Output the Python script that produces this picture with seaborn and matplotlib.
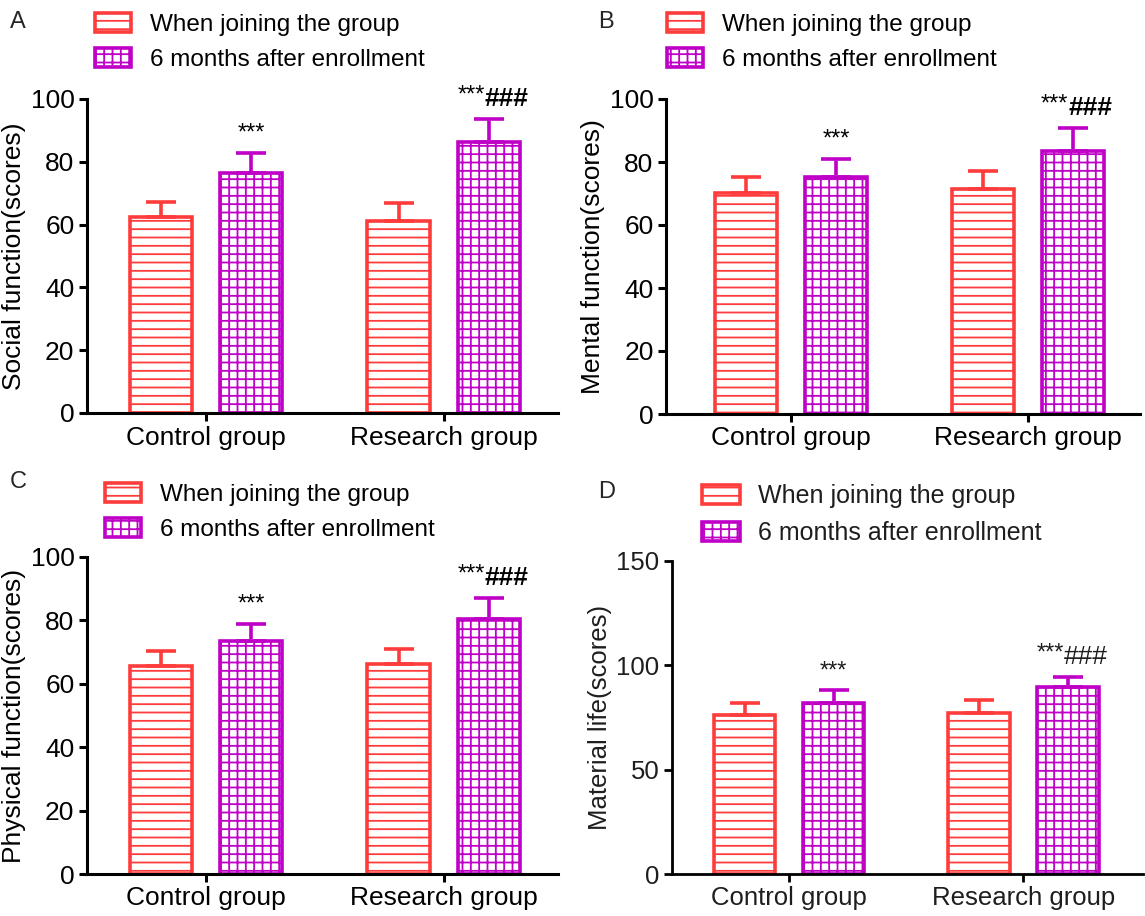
import numpy as np
import pandas as pd
import matplotlib
matplotlib.use('Agg')
import matplotlib.pyplot as plt
import seaborn as sns

groups = ['Control group', 'Research group']
times = ['When joining the group', '6 months after enrollment']

social_join = [62.4, 61.1]
social_join_sd = [4.8, 5.8]
social_6m = [76.4, 86.3]
social_6m_sd = [6.4, 7.3]

mental_join = [70.3, 71.5]
mental_join_sd = [5.0, 5.7]
mental_6m = [75.3, 83.5]
mental_6m_sd = [5.7, 7.3]

physical_join = [65.5, 66.2]
physical_join_sd = [4.8, 4.8]
physical_6m = [73.5, 80.3]
physical_6m_sd = [5.5, 6.7]

material_join = [76.1, 77.2]
material_join_sd = [5.7, 6.1]
material_6m = [81.8, 89.6]
material_6m_sd = [6.2, 4.8]

ylabels = ['Social function(scores)', 'Mental function(scores)',
           'Physical function(scores)', 'Material life(scores)']
letters = ['A', 'B', 'C', 'D']

red = '#FF3C3C'
magenta = '#BF00C6'

sns.set_style('ticks')
plt.rcParams['font.family'] = ['Liberation Sans', 'DejaVu Sans']
plt.rcParams['hatch.linewidth'] = 1.3

fig = plt.figure(figsize=(11.45, 9.16), dpi=100)
W, H = 1145, 916


def panel(box, letter, ylabel, join, join_sd, m6, m6_sd, ymax, ystep, xlim,
          leg_xy, letter_xy, light=False):
    l, t, r, b = box
    ax = fig.add_axes([l / W, 1 - b / H, (r - l) / W, (b - t) / H])
    df = pd.DataFrame({'group': groups * 2,
                       'time': [times[0]] * 2 + [times[1]] * 2,
                       'score': join + m6})
    sns.barplot(data=df, x='group', y='score', hue='time', order=groups,
                hue_order=times, palette=['white', 'white'], width=0.76,
                gap=0.31, errorbar=None, legend=False, ax=ax)

    fam = ['Liberation Sans', 'DejaVu Sans']
    tc = '#1e1e1e' if light else 'black'
    fs = 18.5 if light else 19
    lw = 2.0 if light else 2.2

    for cont, color, hatch, sd in zip(ax.containers, [red, magenta],
                                      ['--', '++'], [join_sd, m6_sd]):
        for bar in cont:
            bar.set_facecolor('white')
            bar.set_edgecolor(color)
            bar.set_hatch(hatch)
            bar.set_linewidth(2.6)
        xs = [p.get_x() + p.get_width() / 2 for p in cont]
        hs = [p.get_height() for p in cont]
        ax.errorbar(xs, hs, yerr=[np.zeros(len(sd)), sd], fmt='none',
                    ecolor=color, elinewidth=2.6, capsize=10.5, capthick=2.6,
                    zorder=1)

    # significance marks over the 6-month bars
    m6_bars = ax.containers[1]
    tops = [v + s for v, s in zip(m6, m6_sd)]
    p0 = m6_bars[0]
    ax.annotate('***', (p0.get_x() + p0.get_width() / 2, tops[0]),
                xytext=(0, 6), textcoords='offset points', ha='center',
                va='bottom', fontsize=17, family=fam, color=tc)
    p1 = m6_bars[1]
    cx = p1.get_x() + p1.get_width() / 2
    ax.annotate('***', (cx, tops[1]), xytext=(-3, 9),
                textcoords='offset points', ha='right', va='bottom',
                fontsize=17, family=fam, color=tc)
    ax.annotate('###', (cx, tops[1]), xytext=(-3, 6),
                textcoords='offset points', ha='left', va='bottom',
                fontsize=19, family=fam, color=tc,
                weight='normal' if light else 'bold')

    ax.set_xlim(*xlim)
    ax.set_ylim(0, ymax)
    ax.set_yticks(np.arange(0, ymax + 1, ystep))
    ax.set_xlabel('')
    ax.set_ylabel(ylabel, fontsize=fs, labelpad=3, family=fam, color=tc)
    sns.despine(ax=ax)
    for s in ['left', 'bottom']:
        ax.spines[s].set_linewidth(lw)
        ax.spines[s].set_color('black')
    ax.tick_params(width=lw, length=6, color='black', pad=3,
                   labelsize=fs, labelcolor=tc)

    handles = [ax.containers[0][0], ax.containers[1][0]]
    leg = ax.legend(handles, times, loc='lower left',
                    bbox_to_anchor=(leg_xy[0] / W, 1 - leg_xy[1] / H),
                    bbox_transform=fig.transFigure, frameon=False,
                    handlelength=1.5, handleheight=0.8, handletextpad=0.75,
                    labelspacing=0.5, borderpad=0, borderaxespad=0,
                    prop={'size': 18 if light else 17.5, 'family': fam})
    for txt in leg.get_texts():
        txt.set_color(tc)
    fig.text(letter_xy[0] / W, 1 - letter_xy[1] / H, letter, fontsize=17,
             va='center', ha='left', family=fam)
    return ax


panel((87, 99, 558, 413), letters[0], ylabels[0], social_join, social_join_sd,
      social_6m, social_6m_sd, 100, 20, (-0.5, 1.48), (95, 71), (10, 22))
panel((666, 99, 1140, 414), letters[1], ylabels[1], mental_join, mental_join_sd,
      mental_6m, mental_6m_sd, 100, 20, (-0.53, 1.475), (667, 71), (598, 22))
panel((87, 557, 558, 874), letters[2], ylabels[2], physical_join,
      physical_join_sd, physical_6m, physical_6m_sd, 100, 20, (-0.5, 1.48),
      (105, 541), (10, 482))
panel((672, 561, 1143, 874), letters[3], ylabels[3], material_join,
      material_join_sd, material_6m, material_6m_sd, 150, 50, (-0.5, 1.51),
      (702, 545), (598, 492), light=True)

fig.savefig('out.png', dpi=100)
